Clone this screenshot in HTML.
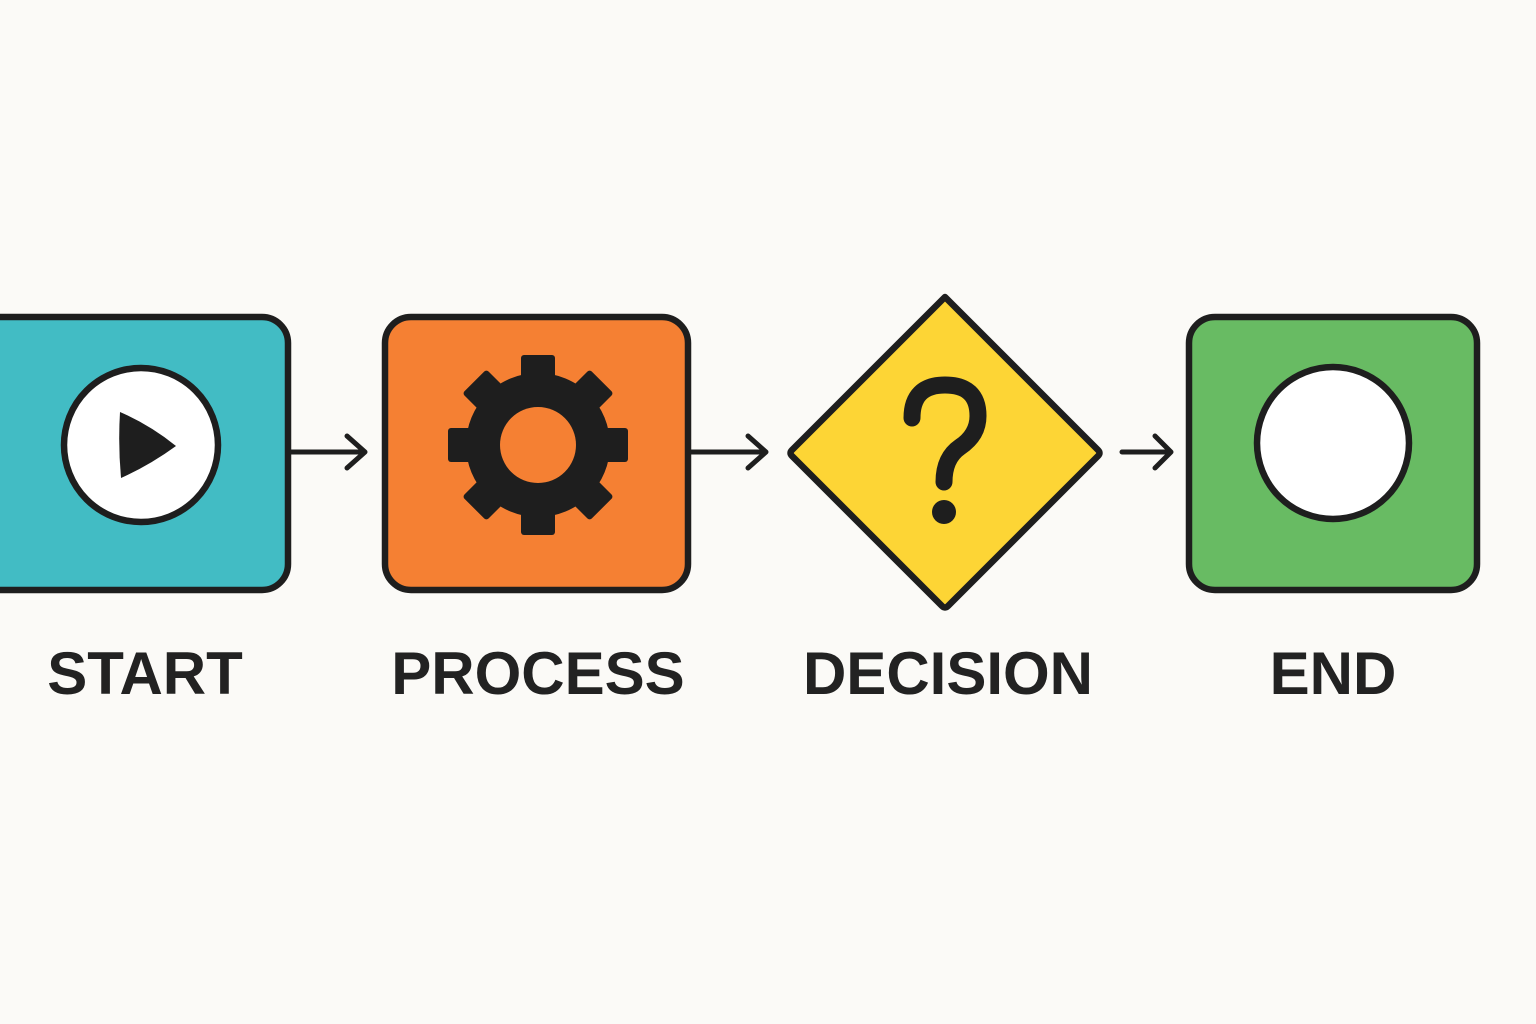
<!DOCTYPE html>
<html><head><style>
html,body{margin:0;padding:0;background:#fbfaf7;}
svg{display:block}
</style></head><body>
<svg width="1536" height="1024" viewBox="0 0 1536 1024" xmlns="http://www.w3.org/2000/svg">
<rect width="1536" height="1024" fill="#fbfaf7"/>
<g stroke="#1e1e1e" stroke-width="6.5" stroke-linejoin="round" stroke-linecap="round">
<rect x="-30" y="317" width="318" height="273" rx="26" fill="#42bcc4"/>
<circle cx="141" cy="445" r="77" fill="#fff"/>
<rect x="385" y="317" width="303" height="273" rx="26" fill="#f58033"/>
<path d="M945 297 L1098 450 Q1101 453 1098 456 L948 606 Q945 609 942 606 L792 456 Q789 453 792 450 Z" fill="#fdd535"/>
<rect x="1189" y="317" width="288" height="273" rx="26" fill="#68bb63"/>
<circle cx="1333" cy="443" r="76" fill="#fff"/>
<g fill="none" stroke-width="5">
<path d="M291 452 H365 M347 436 L365 452 L347 468"/>
<path d="M691 452 H766 M748 436 L766 452 L748 468"/>
<path d="M1122 452 H1171 M1155 436 L1171 452 L1155 468"/>
</g>
</g>
<path d="M120 412 Q118 445 121 478 Q150 465 176 446 Q150 425 120 412 Z" fill="#1e1e1e"/>
<g transform="translate(538,445)" fill="#1e1e1e">
<circle r="72"/>
<g>
<rect x="-17" y="-90" width="34" height="30" rx="3"/>
<rect x="-17" y="-90" width="34" height="30" rx="3" transform="rotate(45)"/>
<rect x="-17" y="-90" width="34" height="30" rx="3" transform="rotate(90)"/>
<rect x="-17" y="-90" width="34" height="30" rx="3" transform="rotate(135)"/>
<rect x="-17" y="-90" width="34" height="30" rx="3" transform="rotate(180)"/>
<rect x="-17" y="-90" width="34" height="30" rx="3" transform="rotate(225)"/>
<rect x="-17" y="-90" width="34" height="30" rx="3" transform="rotate(270)"/>
<rect x="-17" y="-90" width="34" height="30" rx="3" transform="rotate(315)"/>
</g>
<circle r="38" fill="#f58033"/>
</g>
<path d="M912 418 Q912 385 945 385 Q978 385 978 416 Q978 435 960 447 Q944 458 944 482" fill="none" stroke="#1e1e1e" stroke-width="17" stroke-linecap="round"/>
<circle cx="944" cy="512" r="12" fill="#1e1e1e"/>
<g font-family="Liberation Sans, sans-serif" font-weight="bold" font-size="60" fill="#222" text-anchor="middle">
<text x="145" y="694">START</text>
<text x="538" y="694">PROCESS</text>
<text x="948" y="694">DECISION</text>
<text x="1333" y="694">END</text>
</g>
</svg>
</body></html>
